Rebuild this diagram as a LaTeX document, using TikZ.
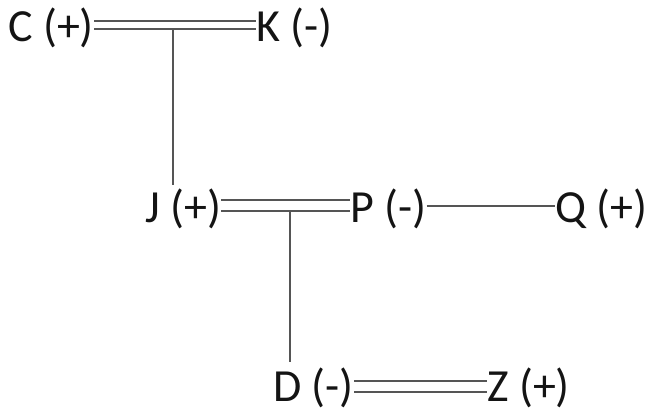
\documentclass[tikz,border=0pt]{standalone}
\usepackage{fontspec}
\setmainfont{Carlito}
\definecolor{txt}{HTML}{141414}
\definecolor{ln}{HTML}{555555}
\tikzset{
  person/.style={inner sep=0pt, anchor=base west, text=txt, font=\fontsize{46}{52}\selectfont},
  link/.style={draw=ln, line width=1.9pt},
}
\begin{document}
\begin{tikzpicture}[x=1pt,y=1pt]
\useasboundingbox (0,0) rectangle (656,416);
% nodes (baseline positions)
\node[person] (c) at (8,374) {C (+)};
\node[person] (k) at (256,374) {K (-)};
\node[person] (j) at (145,194) {J (+)};
\node[person] (p) at (350,194) {P (-)};
\node[person] (q) at (555,194) {Q (+)};
\node[person] (d) at (273,15) {D (-)};
\node[person] (z) at (487,15) {Z (+)};
% C = K
\draw[link] ([yshift=7pt]c.east) -- ([yshift=7pt]k.west);
\draw[link] ([yshift=-1pt]c.east) -- ([yshift=-1pt]k.west);
\coordinate (ck) at ([yshift=-1pt]c.east -| 173,0);
\coordinate (jtop) at ([yshift=3pt]j.north);
\draw[link] (ck) -- (ck |- jtop);
% J = P
\draw[link] ([yshift=8pt]j.east) -- ([yshift=8pt]p.west);
\draw[link] ([yshift=-3pt]j.east) -- ([yshift=-3pt]p.west);
\coordinate (jp) at ([yshift=-3pt]j.east -| 290,0);
\coordinate (dtop) at ([yshift=5pt]d.north);
\draw[link] (jp) -- (jp |- dtop);
% P - Q
\draw[link] ([yshift=2pt]p.east) -- ([yshift=2pt]q.west);
% D = Z
\draw[link] ([yshift=6pt]d.east) -- ([yshift=6pt]z.west);
\draw[link] ([yshift=-5pt]d.east) -- ([yshift=-5pt]z.west);
\end{tikzpicture}
\end{document}
